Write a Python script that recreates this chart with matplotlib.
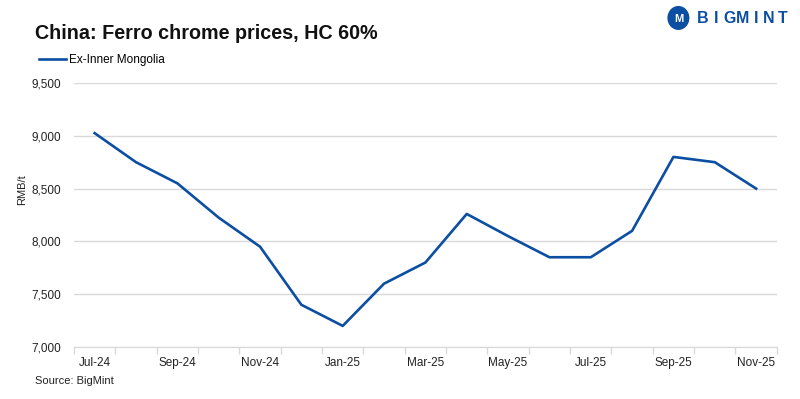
import matplotlib
matplotlib.use("Agg")
import matplotlib.pyplot as plt
from matplotlib.patches import Ellipse
import numpy as np

# Monthly prices, RMB/t
months = ['Jul-24', 'Aug-24', 'Sep-24', 'Oct-24', 'Nov-24', 'Dec-24', 'Jan-25', 'Feb-25',
          'Mar-25', 'Apr-25', 'May-25', 'Jun-25', 'Jul-25', 'Aug-25', 'Sep-25', 'Oct-25', 'Nov-25']
inner_mongolia = [9025, 8750, 8550, 8225, 7950, 7400, 7200, 7600,
                  7800, 8260, 8050, 7850, 7850, 8100, 8800, 8750, 8500]
yticks = [7000, 7500, 8000, 8500, 9000, 9500]

plt.rcParams['font.family'] = ['Liberation Sans', 'DejaVu Sans']

fig = plt.figure(figsize=(8, 3.99), dpi=100)
ax = fig.add_axes([0.0925, 0.1303, 0.8785, 0.6617])

x = np.arange(len(months))
line, = ax.plot(x, inner_mongolia, color='#0B4EA2', linewidth=1.9, label='Ex-Inner Mongolia')

ax.set_xlim(-0.5, len(months) - 0.5)
ax.set_ylim(7000, 9500)
ax.set_yticks(yticks)
ax.set_yticklabels([f'{v:,}' for v in yticks])
ax.yaxis.grid(True, color='#D9D9D9', linewidth=1)
ax.set_axisbelow(True)

ax.set_xticks(x[::2])
ax.set_xticklabels(months[::2])
ax.set_xticks(np.arange(-0.5, len(months)), minor=True)
ax.tick_params(axis='x', which='major', length=0, pad=7, labelsize=8.5, colors='#222222')
ax.tick_params(axis='x', which='minor', length=5, color='#D9D9D9', width=1)
ax.tick_params(axis='y', length=0, pad=9, labelsize=8.5, colors='#222222')

for s in ['top', 'right', 'left']:
    ax.spines[s].set_visible(False)
ax.spines['bottom'].set_color('#D9D9D9')

ax.set_ylabel('RMB/t', fontsize=8, color='#222222')
ax.yaxis.set_label_coords(-0.066, 0.595)

fig.text(0.044, 0.917, 'China: Ferro chrome prices, HC 60%', fontsize=14.2,
         fontweight='bold', va='center', ha='left', color='#111111')
fig.legend(handles=[line], loc='center left', bbox_to_anchor=(0.035, 0.85),
           frameon=False, fontsize=8.5, handlelength=2.3, handletextpad=0.3)
fig.text(0.044, 0.045, 'Source: BigMint', fontsize=8, va='center', ha='left', color='#222222')

# logo
fig.patches.append(Ellipse((0.848, 0.955), 22 / 800, 24 / 399, transform=fig.transFigure,
                           facecolor='#0B4EA2', edgecolor='none'))
fig.text(0.848, 0.952, 'M', fontsize=8, fontweight='bold', color='white',
         ha='center', va='center')
for i, ch in enumerate('BIGMINT'):
    fig.text((703 + i * 13.2) / 800, 0.953, ch, fontsize=11.5, fontweight='bold',
             color='#0B4EA2', ha='center', va='center')

fig.savefig('out.png', dpi=100)
